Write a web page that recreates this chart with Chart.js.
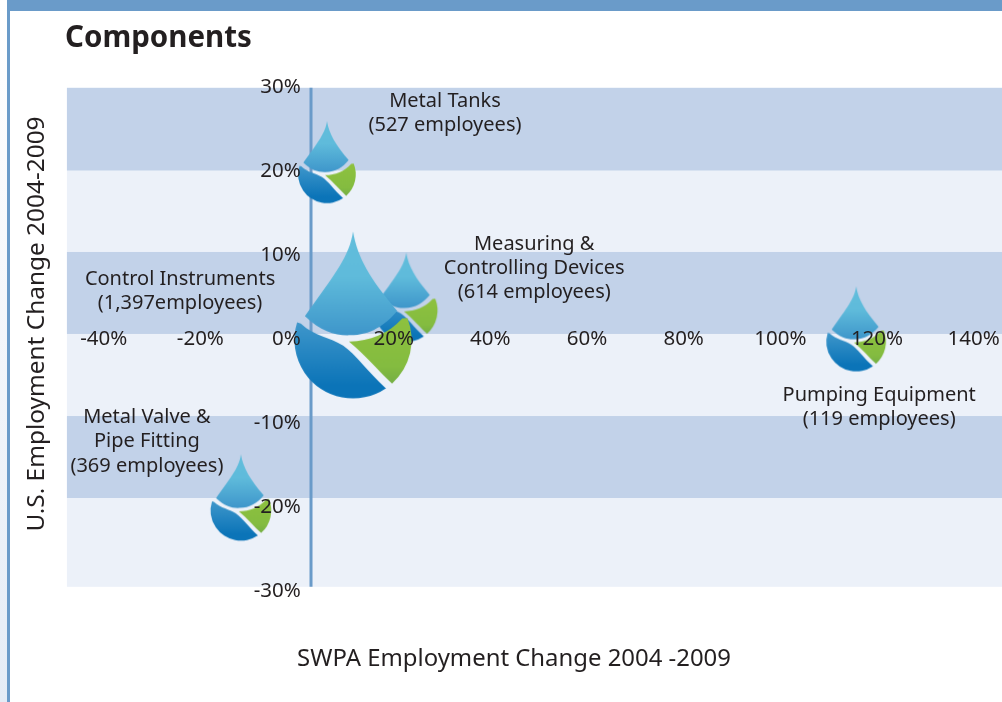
<!DOCTYPE html>
<html>
<head>
<meta charset="utf-8">
<title>Components</title>
<script src="https://cdn.jsdelivr.net/npm/chart.js@4"></script>
<style>
    html, body { margin: 0; padding: 0; background: #fff; overflow: hidden; }
    #page { position: relative; width: 1002px; height: 702px; }
    #strip { position: absolute; left: 0; top: 0; width: 8px; height: 702px; background: linear-gradient(#fff, #e4ecf6); }
    #frameTop { position: absolute; left: 7px; top: 0; right: 0; height: 11px; background: #6a9bc9; }
    #frameLeft { position: absolute; left: 7px; top: 0; width: 3px; height: 702px; background: #6a9bc9; }
    canvas { position: absolute; left: 0; top: 0; }
</style>
</head>
<body>
<div id="page">
    <div id="strip"></div>
    <div id="frameTop"></div>
    <div id="frameLeft"></div>
    <canvas id="chart" width="1002" height="702"></canvas>
</div>
<script>
// data
const names = ['Metal Tanks', 'Measuring & Controlling Devices', 'Pumping Equipment', 'Metal Valve & Pipe Fitting', 'Control Instruments']
const swpaChange = [3.3, 19.7, 112.8, -14.5, 8.7]
const usChange = [19.6, 3.4, -0.3, -20.4, -0.1]
const employees = [527, 614, 119, 369, 1397]
const xTicks = [-40, -20, 20, 40, 60, 80, 100, 120, 140]
const yTicks = [-30, -20, -10, 0, 10, 20, 30]
const bandEdges = [[29.9, 20.06], [10.36, 0.6], [-9.17, -18.93]]
const plotTop = 29.9
const plotBottom = -29.5

// styling, kept apart from the values above
const FONT = '"Noto Sans", sans-serif'
const dropRadius = [28.5, 31, 29.5, 30, 58]
const labelLines = [
    ['Metal Tanks', '(527 employees)'],
    ['Measuring &', 'Controlling Devices', '(614 employees)'],
    ['Pumping Equipment', '(119 employees)'],
    ['Metal Valve &', 'Pipe Fitting', '(369 employees)'],
    ['Control Instruments', '(1,397employees)']
]
// centre of the first line, relative to the drop
const labelOffset = [[118, -73], [128, -66.5], [23, 53.5], [-94, -93], [-173, -61]]

function dropSprite(r) {
    const half = Math.ceil(r * 1.95)
    const c = document.createElement('canvas')
    c.width = half * 2
    c.height = half * 2
    const g = c.getContext('2d')
    g.translate(half, half)
    g.scale(r, r)

    let grad = g.createLinearGradient(0, -1.87, 0, -0.1)
    grad.addColorStop(0, '#62bedc')
    grad.addColorStop(0.45, '#5fbbdb')
    grad.addColorStop(1, '#3f97cb')
    g.fillStyle = grad
    g.beginPath()
    g.moveTo(0, -1.87)
    g.bezierCurveTo(-0.06, -1.45, -0.3, -1.15, -0.83, -0.41)
    g.bezierCurveTo(-0.55, -0.14, -0.3, -0.07, -0.05, -0.08)
    g.bezierCurveTo(0.3, -0.08, 0.55, -0.25, 0.76, -0.5)
    g.bezierCurveTo(0.3, -1.05, 0.08, -1.4, 0, -1.87)
    g.closePath()
    g.fill()

    grad = g.createLinearGradient(0, -0.3, 0, 0.8)
    grad.addColorStop(0, '#3f97cb')
    grad.addColorStop(1, '#0b74b8')
    g.fillStyle = grad
    g.beginPath()
    g.moveTo(-0.9, -0.28)
    g.bezierCurveTo(-0.65, -0.05, -0.4, -0.05, -0.17, 0.1)
    g.bezierCurveTo(0.05, 0.25, 0.25, 0.55, 0.57, 0.84)
    g.arc(0, 0, 1.01, Math.atan2(0.84, 0.57), Math.atan2(-0.28, -0.9) + Math.PI * 2)
    g.closePath()
    g.fill()

    grad = g.createLinearGradient(0, -0.3, 0, 0.8)
    grad.addColorStop(0, '#8dc13f')
    grad.addColorStop(0.7, '#84bc40')
    grad.addColorStop(1, '#72ad45')
    g.fillStyle = grad
    g.beginPath()
    g.moveTo(-0.07, 0.03)
    g.bezierCurveTo(0.3, 0.02, 0.6, -0.1, 0.85, -0.37)
    g.arc(0, 0, 1.01, Math.atan2(-0.37, 0.92), Math.atan2(0.76, 0.68))
    g.bezierCurveTo(0.45, 0.55, 0.2, 0.25, -0.07, 0.03)
    g.closePath()
    g.fill()
    return c
}

const backdrop = {
    id: 'backdrop',
    beforeDatasetsDraw(chart) {
        const {ctx, scales: {x, y}} = chart
        const left = x.getPixelForValue(-50.5)
        const right = chart.chartArea.right
        ctx.save()
        ctx.fillStyle = '#ecf1f9'
        ctx.fillRect(left, y.getPixelForValue(plotTop), right - left, y.getPixelForValue(plotBottom) - y.getPixelForValue(plotTop))
        ctx.fillStyle = '#c2d2e9'
        bandEdges.forEach(b => {
            ctx.fillRect(left, y.getPixelForValue(b[0]), right - left, y.getPixelForValue(b[1]) - y.getPixelForValue(b[0]))
        })
        ctx.restore()
    }
}

const texts = {
    id: 'texts',
    afterDraw(chart) {
        const {ctx, scales: {x, y}} = chart
        ctx.save()
        ctx.fillStyle = '#231f20'
        ctx.textAlign = 'center'
        ctx.textBaseline = 'middle'
        ctx.font = '20px ' + FONT
        labelLines.forEach((lines, i) => {
            const px = x.getPixelForValue(swpaChange[i]) + labelOffset[i][0]
            const py = y.getPixelForValue(usChange[i]) + labelOffset[i][1]
            lines.forEach((line, j) => ctx.fillText(line, px, py + j * 24.3))
        })
        ctx.font = '23.9px ' + FONT
        ctx.fillText('SWPA Employment Change 2004 -2009', 514, 659)
        ctx.translate(37, 324)
        ctx.rotate(-Math.PI / 2)
        ctx.font = '24.4px ' + FONT
        ctx.fillText('U.S. Employment Change 2004-2009', 0, 0)
        ctx.restore()
    }
}

// the tick labels of an axis placed at a value should not shrink the plot
function noPadding(s) {
    s.paddingLeft = 0
    s.paddingRight = 0
    s.paddingTop = 0
    s.paddingBottom = 0
}

new Chart(document.getElementById('chart'), {
    type: 'scatter',
    plugins: [backdrop, texts],
    data: {
        datasets: [
            {
                label: 'Employment change',
                order: 1,
                data: names.map((n, i) => ({x: swpaChange[i], y: usChange[i], employees: employees[i]})),
                pointStyle: dropRadius.map(dropSprite),
                pointRadius: dropRadius,
                clip: false
            },
            {
                label: 'Axis',
                order: 2,
                showLine: true,
                data: [{x: 0, y: plotTop}, {x: 0, y: plotBottom}],
                borderColor: '#6a9bc9',
                borderWidth: 3,
                pointRadius: 0
            }
        ]
    },
    options: {
        responsive: false,
        animation: false,
        layout: {autoPadding: false, padding: {left: 65, top: 0, right: 0, bottom: 111}},
        plugins: {
            legend: {display: false},
            tooltip: {enabled: false},
            title: {
                display: true,
                text: 'Components',
                align: 'start',
                color: '#231f20',
                font: {family: FONT, size: 29.5, weight: 'bold', lineHeight: 1.2},
                padding: {top: 21, bottom: 30.6}
            }
        },
        scales: {
            x: {
                type: 'linear',
                min: -50.9,
                max: 142.97,
                position: {y: 0},
                grid: {display: false, drawTicks: false},
                border: {display: false},
                afterBuildTicks: s => { s.ticks = xTicks.map(v => ({value: v})) },
                afterFit: noPadding,
                ticks: {
                    z: 1,
                    autoSkip: false,
                    maxRotation: 0,
                    labelOffset: -14,
                    padding: -12,
                    color: '#231f20',
                    font: {family: FONT, size: 20.5},
                    callback: v => v + '%'
                }
            },
            y: {
                type: 'linear',
                min: -30,
                max: 30,
                // labels end at the crossing point, a little left of the zero line
                position: {x: -2.1},
                grid: {display: false, drawTicks: false},
                border: {display: false},
                afterBuildTicks: s => { s.ticks = yTicks.map(v => ({value: v})) },
                afterFit: noPadding,
                ticks: {
                    z: 1,
                    autoSkip: false,
                    color: '#231f20',
                    font: {family: FONT, size: 20.5},
                    callback: v => v + '%'
                }
            }
        }
    }
})
</script>
</body>
</html>
